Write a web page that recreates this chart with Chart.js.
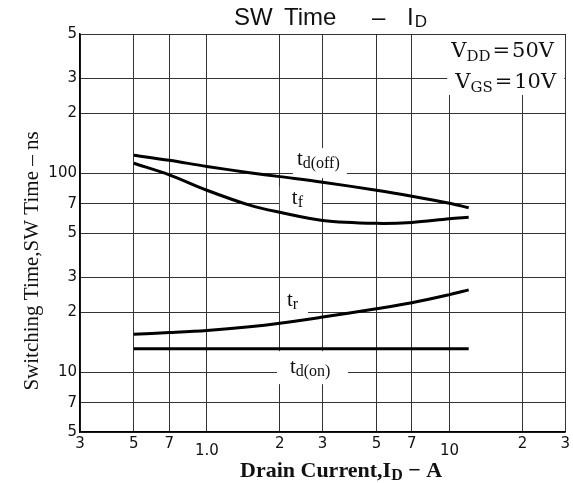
<!DOCTYPE html>
<html>
<head>
<meta charset="utf-8">
<script src="https://cdn.jsdelivr.net/npm/chart.js@4.4.1/dist/chart.umd.min.js"></script>
<style>
  html, body { margin: 0; padding: 0; background: #fff; }
  #wrap { width: 573px; height: 483px; }
</style>
</head>
<body>
<div id="wrap"><canvas id="graphique" width="573" height="483"></canvas></div>
<script>
// Courant de drain (A) et temps de commutation (ns)
const current = [0.5, 0.7, 1, 1.5, 2, 3, 5, 7, 10, 12];
const tdOff = [123, 116, 108, 100.5, 96, 90, 82, 76.5, 70.5, 67];
const tf = [112, 98, 82, 69, 63.5, 57.8, 55.9, 56.5, 59, 60];
const tr = [15.5, 15.8, 16.2, 16.9, 17.6, 18.9, 20.8, 22.3, 24.5, 25.9];
const tdOnCurrent = [0.5, 12];
const tdOn = [13.1, 13.1];

// Graduations
const xTicks = [0.3, 0.5, 0.7, 1, 2, 3, 5, 7, 10, 20, 30];
const xTickLabels = ["3", "5", "7", "1.0", "2", "3", "5", "7", "10", "2", "3"];
const yTicks = [5, 7, 10, 20, 30, 50, 70, 100, 200, 300, 500];
const yTickLabels = ["5", "7", "10", "2", "3", "5", "7", "100", "2", "3", "5"];

const toPoints = (xs, ys) => xs.map((x, i) => ({ x, y: ys[i] }));

const serif = "'Liberation Serif', serif";
const wideSerif = "'DejaVu Serif', serif";
const tickFamily = "'DejaVu Sans', sans-serif";

// Etiquettes des courbes (position en unités des axes, fond blanc en pixels)
const curveLabels = [
    { sub: "d(off)", x: 2.35, y: 109.7, box: [-4, -17, 54, 30] },
    { sub: "f", x: 2.24, y: 69.7, box: [-12, -18, 42, 26] },
    { sub: "r", x: 2.14, y: 21.5, box: [-7, -27, 28, 44] },
    { sub: "d(on)", x: 2.20, y: 9.88, box: [-13, -22, 71, 33] }
];

function drawRich(ctx, x, y, parts) {
    let cx = x;
    for (const p of parts) {
        ctx.font = p.font;
        ctx.fillText(p.text, cx, y + (p.dy || 0));
        cx += ctx.measureText(p.text).width + (p.gap || 0);
    }
    return cx;
}

const annotations = {
    id: "annotations",
    beforeDatasetsDraw(chart) {
        const { ctx, scales: { x, y }, chartArea: a } = chart;
        ctx.save();
        ctx.fillStyle = "#fff";
        curveLabels.forEach(l => {
            const px = x.getPixelForValue(l.x), py = y.getPixelForValue(l.y);
            ctx.fillRect(px + l.box[0], py + l.box[1], l.box[2], l.box[3]);
        });
        // cadre V_DD / V_GS
        ctx.fillRect(a.right - 118, a.top + 1, 117, 60);
        ctx.restore();
    },
    afterDraw(chart) {
        const { ctx, scales: { x, y }, chartArea: a } = chart;
        ctx.save();
        ctx.fillStyle = "#111";
        ctx.textBaseline = "alphabetic";
        ctx.textAlign = "left";

        // Titre
        const sans = "'Liberation Sans', Arial, sans-serif";
        ctx.font = "24px " + sans;
        ctx.fillText("SW", 234, 25);
        ctx.fillText("Time", 284, 25);
        ctx.fillText("–", 372, 25);
        drawRich(ctx, 407, 25, [
            { text: "I", font: "24px " + sans, gap: 1 },
            { text: "D", font: "17px " + sans, dy: 2 }
        ]);

        // Conditions
        drawRich(ctx, a.right - 114, 57, [
            { text: "V", font: "21px " + wideSerif },
            { text: "DD", font: "15px " + wideSerif, dy: 4, gap: 2 },
            { text: "=", font: "21px " + wideSerif, gap: 2 },
            { text: "50V", font: "21px " + wideSerif }
        ]);
        drawRich(ctx, a.right - 110, 88, [
            { text: "V", font: "21px " + wideSerif },
            { text: "GS", font: "15px " + wideSerif, dy: 4, gap: 2 },
            { text: "=", font: "21px " + wideSerif, gap: 2 },
            { text: "10V", font: "21px " + wideSerif }
        ]);

        // Etiquettes des courbes
        curveLabels.forEach(l => {
            const px = x.getPixelForValue(l.x), py = y.getPixelForValue(l.y);
            drawRich(ctx, px, py, [
                { text: "t", font: "21px " + serif },
                { text: l.sub, font: "16px " + serif, dy: 3 }
            ]);
        });

        // Titre axe X
        drawRich(ctx, 240, 477, [
            { text: "Drain Current,I", font: "bold 22px " + serif },
            { text: "D", font: "bold 16px " + serif, dy: 3 },
            { text: " − A", font: "bold 22px " + serif }
        ]);

        // Titre axe Y
        ctx.translate(38, 261);
        ctx.rotate(-Math.PI / 2);
        ctx.textAlign = "center";
        ctx.font = "21px " + serif;
        ctx.fillText("Switching Time,SW Time – ns", 0, 0);
        ctx.restore();
    }
};

const lineStyle = {
    borderColor: "#000",
    borderWidth: 3,
    pointRadius: 0,
    fill: false,
    tension: 0.35
};

new Chart(document.getElementById("graphique").getContext("2d"), {
    type: "line",
    data: {
        datasets: [
            { label: "td(off)", data: toPoints(current, tdOff), ...lineStyle },
            { label: "tf", data: toPoints(current, tf), ...lineStyle },
            { label: "tr", data: toPoints(current, tr), ...lineStyle },
            { label: "td(on)", data: toPoints(tdOnCurrent, tdOn), ...lineStyle }
        ]
    },
    options: {
        responsive: false,
        animation: false,
        layout: { padding: { top: 34, right: 3, left: 0, bottom: 0 } },
        plugins: { legend: { display: false }, tooltip: { enabled: false } },
        scales: {
            x: {
                type: "logarithmic",
                min: 0.3,
                max: 30,
                afterBuildTicks: (s) => { s.ticks = xTicks.map(v => ({ value: v })); },
                afterFit: (s) => { s.height = 51; },
                ticks: {
                    autoSkip: false,
                    maxRotation: 0,
                    padding: 3,
                    color: "#111",
                    // "1.0" et "10" sont imprimés un peu plus bas
                    font: (c) => ({
                        family: tickFamily,
                        size: 15,
                        lineHeight: (c.index === 3 || c.index === 8) ? 2.2 : 1.2
                    }),
                    callback: (v, i) => xTickLabels[i]
                },
                grid: { color: "#333", lineWidth: 1, drawTicks: false },
                border: { color: "#000", width: 1.5 }
            },
            y: {
                type: "logarithmic",
                min: 5,
                max: 500,
                afterBuildTicks: (s) => { s.ticks = yTicks.map(v => ({ value: v })); },
                afterFit: (s) => { s.width = 80; },
                ticks: {
                    autoSkip: false,
                    padding: 3,
                    color: "#111",
                    font: { family: tickFamily, size: 15 },
                    callback: (v, i) => yTickLabels[i]
                },
                grid: { color: "#333", lineWidth: 1, drawTicks: false },
                border: { color: "#000", width: 1.5 }
            }
        }
    },
    plugins: [annotations]
});
</script>
</body>
</html>
